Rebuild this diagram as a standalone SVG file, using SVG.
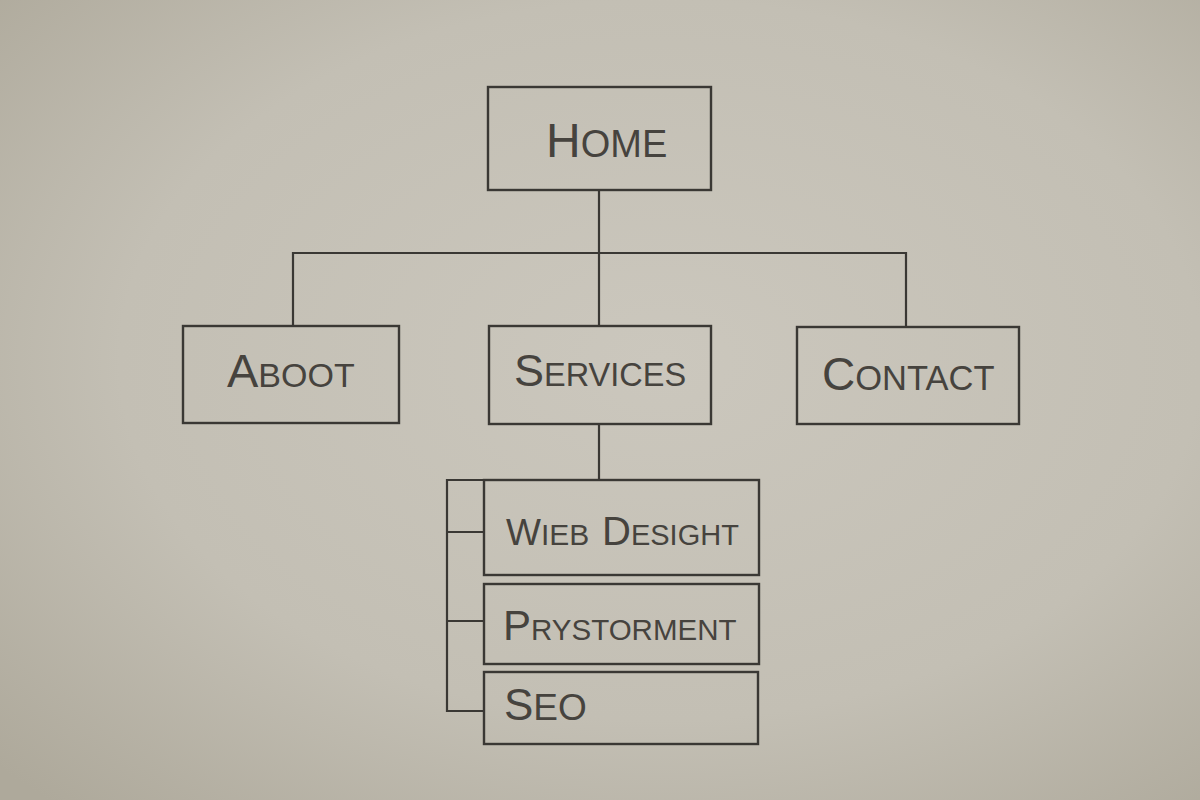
<svg xmlns="http://www.w3.org/2000/svg" width="1200" height="800" viewBox="0 0 1200 800">
<defs>
<radialGradient id="paper" cx="55%" cy="45%" r="75%">
<stop offset="0" stop-color="#cbc7bd"/>
<stop offset="0.6" stop-color="#c3bfb4"/>
<stop offset="1" stop-color="#aea99b"/>
</radialGradient>
<style>
.box{fill:none;stroke:#3a3834;stroke-width:2.4}
.wire{fill:none;stroke:#3a3834;stroke-width:2.2}
.lbl{font-family:"Liberation Sans","DejaVu Sans",sans-serif;fill:#46433e;text-transform:uppercase}
</style>
</defs>
<rect width="1200" height="800" fill="url(#paper)"/>
<g id="connectors">
<path class="wire" d="M599 190 V326"/>
<path class="wire" d="M293 326 V253 H906 V327"/>
<path class="wire" d="M599 424 V480"/>
<path class="wire" d="M484 480 H447 V711 H484"/>
<path class="wire" d="M447 532 H484"/>
<path class="wire" d="M447 621 H484"/>
</g>
<g id="home">
<rect class="box" x="488" y="87" width="223" height="103"/>
<text class="lbl" x="546" y="157"><tspan font-size="48">H</tspan><tspan font-size="38">ome</tspan></text>
</g>
<g id="about">
<rect class="box" x="183" y="326" width="216" height="97"/>
<text class="lbl" x="227" y="387"><tspan font-size="47">A</tspan><tspan font-size="34">boot</tspan></text>
</g>
<g id="services">
<rect class="box" x="489" y="326" width="222" height="98"/>
<text class="lbl" x="514" y="386"><tspan font-size="45">S</tspan><tspan font-size="32.5">ervices</tspan></text>
</g>
<g id="contact">
<rect class="box" x="797" y="327" width="222" height="97"/>
<text class="lbl" x="822" y="390"><tspan font-size="46">C</tspan><tspan font-size="34.5">ontact</tspan></text>
</g>
<g id="web-design">
<rect class="box" x="484" y="480" width="275" height="95"/>
<text class="lbl" x="506" y="545"><tspan font-size="37">W</tspan><tspan font-size="30">ieb</tspan><tspan x="602" font-size="40">D</tspan><tspan font-size="29">esight</tspan></text>
</g>
<g id="prystorment">
<rect class="box" x="484" y="584" width="275" height="80"/>
<text class="lbl" x="503" y="640"><tspan font-size="42">P</tspan><tspan font-size="29.5">rystorment</tspan></text>
</g>
<g id="seo">
<rect class="box" x="484" y="672" width="274" height="72"/>
<text class="lbl" x="504" y="720"><tspan font-size="44">S</tspan><tspan font-size="37">eo</tspan></text>
</g>
</svg>
